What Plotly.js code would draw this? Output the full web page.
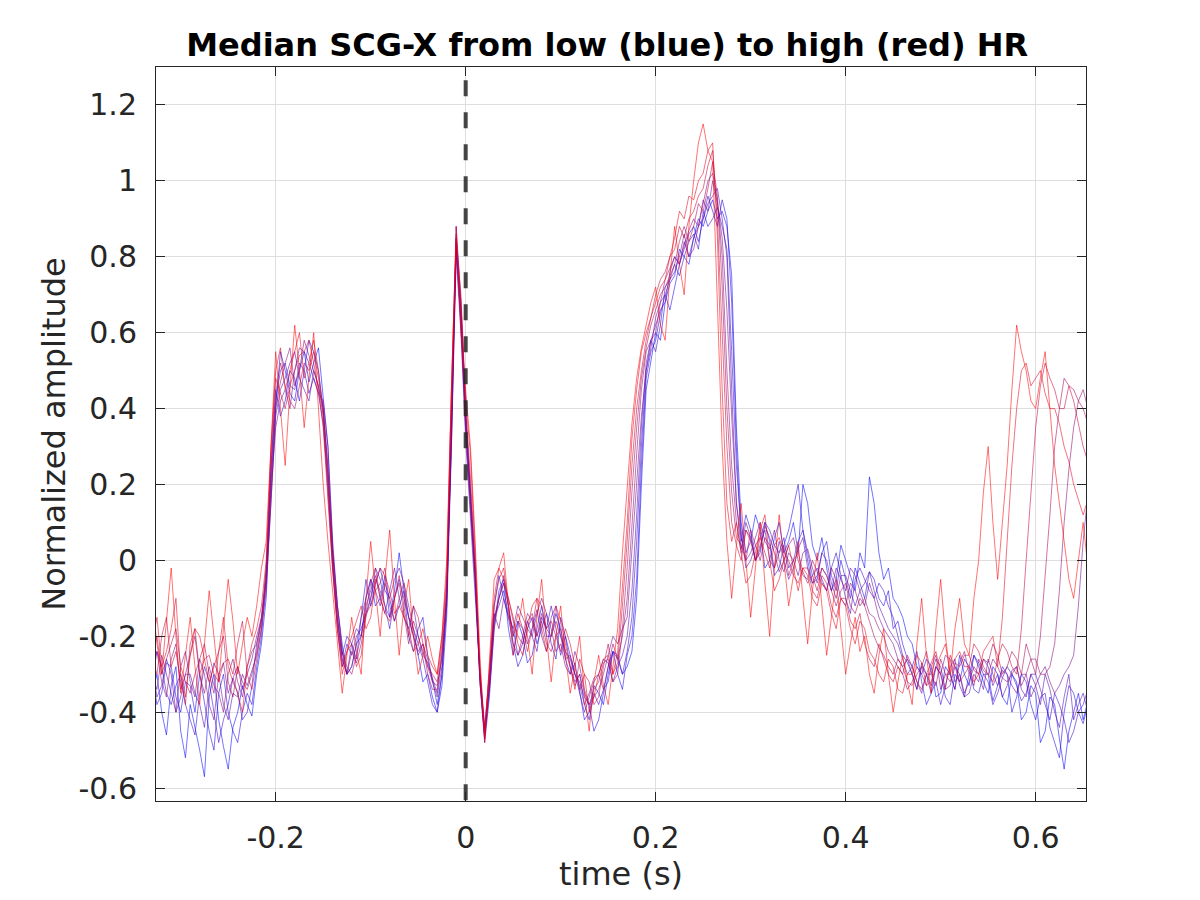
<!DOCTYPE html>
<html>
<head>
<meta charset="utf-8">
<script src="https://cdn.plot.ly/plotly-3.0.1.min.js"></script>
<style>html,body{margin:0;padding:0;background:#fff;}#chart{width:1200px;height:900px;}</style>
</head>
<body>
<div id="chart"></div>
<script>
const time = [-0.330,-0.325,-0.320,-0.315,-0.310,-0.305,-0.300,-0.295,-0.290,-0.285,
-0.280,-0.275,-0.270,-0.265,-0.260,-0.255,-0.250,-0.245,-0.240,-0.235,
-0.230,-0.225,-0.220,-0.215,-0.210,-0.205,-0.200,-0.195,-0.190,-0.185,
-0.180,-0.175,-0.170,-0.165,-0.160,-0.155,-0.150,-0.145,-0.140,-0.135,
-0.130,-0.125,-0.120,-0.115,-0.110,-0.105,-0.100,-0.095,-0.090,-0.085,
-0.080,-0.075,-0.070,-0.065,-0.060,-0.055,-0.050,-0.045,-0.040,-0.035,
-0.030,-0.025,-0.020,-0.015,-0.010,-0.005,0.000,0.005,0.010,0.015,
0.020,0.025,0.030,0.035,0.040,0.045,0.050,0.055,0.060,0.065,
0.070,0.075,0.080,0.085,0.090,0.095,0.100,0.105,0.110,0.115,
0.120,0.125,0.130,0.135,0.140,0.145,0.150,0.155,0.160,0.165,
0.170,0.175,0.180,0.185,0.190,0.195,0.200,0.205,0.210,0.215,
0.220,0.225,0.230,0.235,0.240,0.245,0.250,0.255,0.260,0.265,
0.270,0.275,0.280,0.285,0.290,0.295,0.300,0.305,0.310,0.315,
0.320,0.325,0.330,0.335,0.340,0.345,0.350,0.355,0.360,0.365,
0.370,0.375,0.380,0.385,0.390,0.395,0.400,0.405,0.410,0.415,
0.420,0.425,0.430,0.435,0.440,0.445,0.450,0.455,0.460,0.465,
0.470,0.475,0.480,0.485,0.490,0.495,0.500,0.505,0.510,0.515,
0.520,0.525,0.530,0.535,0.540,0.545,0.550,0.555,0.560,0.565,
0.570,0.575,0.580,0.585,0.590,0.595,0.600,0.605,0.610,0.615,
0.620,0.625,0.630,0.635,0.640,0.645,0.650,0.655,0.660];

// median beats ordered from low HR (blue) to high HR (red)
const hr0 = [-0.35,-0.30,-0.40,-0.46,-0.33,-0.28,-0.45,-0.52,-0.38,-0.44,-0.50,-0.57,-0.36,-0.30,-0.42,-0.49,-0.55,-0.44,-0.40,-0.33,
-0.38,-0.41,-0.30,-0.22,-0.10,0.20,0.40,0.55,0.50,0.44,0.42,0.50,0.55,0.47,0.52,0.56,0.42,0.30,0.05,-0.12,
-0.22,-0.30,-0.28,-0.22,-0.20,-0.10,-0.05,-0.12,-0.10,-0.04,-0.15,-0.08,0.02,-0.08,-0.15,-0.20,-0.25,-0.32,-0.30,-0.36,
-0.40,-0.33,-0.15,0.30,0.88,0.68,0.40,0.18,-0.02,-0.32,-0.48,-0.36,-0.18,-0.08,-0.05,-0.18,-0.25,-0.16,-0.20,-0.27,
-0.25,-0.18,-0.12,-0.20,-0.20,-0.14,-0.18,-0.26,-0.30,-0.27,-0.35,-0.42,-0.40,-0.33,-0.35,-0.38,-0.30,-0.24,-0.25,-0.30,
-0.28,-0.24,-0.10,0.20,0.45,0.52,0.60,0.58,0.68,0.73,0.75,0.82,0.80,0.78,0.85,0.90,0.88,0.92,0.95,0.90,
0.92,0.88,0.75,0.35,0.10,0.02,0.05,0.12,0.08,-0.02,0.00,0.06,0.10,0.02,0.05,0.10,0.02,0.20,0.15,0.04,
0.00,0.06,-0.02,-0.08,-0.05,0.04,0.00,-0.04,-0.08,0.02,-0.02,0.22,0.15,0.02,-0.05,-0.02,-0.10,-0.12,-0.15,-0.20,
-0.22,-0.28,-0.30,-0.26,-0.28,-0.36,-0.35,-0.28,-0.30,-0.34,-0.25,-0.30,-0.33,-0.25,-0.28,-0.32,-0.35,-0.28,-0.30,-0.36,
-0.38,-0.30,-0.32,-0.42,-0.40,-0.33,-0.35,-0.48,-0.45,-0.36,-0.38,-0.47,-0.55,-0.45,-0.40,-0.35,-0.42,-0.37,-0.38];

const hr1 = [-0.30,-0.38,-0.35,-0.27,-0.28,-0.36,-0.40,-0.32,-0.33,-0.40,-0.30,-0.38,-0.45,-0.50,-0.35,-0.30,-0.40,-0.45,-0.48,-0.40,
-0.35,-0.38,-0.28,-0.20,-0.05,0.25,0.45,0.38,0.42,0.50,0.48,0.42,0.50,0.58,0.55,0.50,0.40,0.25,0.02,-0.15,
-0.25,-0.20,-0.22,-0.26,-0.15,-0.05,-0.12,-0.06,-0.02,-0.08,-0.10,-0.16,-0.12,-0.08,-0.20,-0.24,-0.18,-0.15,-0.25,-0.32,
-0.38,-0.30,-0.12,0.35,0.85,0.62,0.38,0.15,-0.05,-0.30,-0.46,-0.32,-0.12,-0.04,-0.10,-0.15,-0.22,-0.28,-0.25,-0.18,
-0.15,-0.22,-0.18,-0.14,-0.22,-0.26,-0.15,-0.20,-0.25,-0.30,-0.32,-0.36,-0.38,-0.45,-0.42,-0.35,-0.28,-0.24,-0.30,-0.34,
-0.25,-0.20,-0.05,0.25,0.48,0.55,0.58,0.65,0.70,0.66,0.72,0.78,0.82,0.86,0.88,0.84,0.90,0.96,0.92,0.88,
0.95,0.90,0.68,0.30,0.05,0.12,0.08,0.00,0.02,0.10,0.05,-0.04,-0.02,0.04,0.08,0.14,0.20,0.08,0.00,-0.06,
-0.05,0.02,0.05,-0.04,-0.08,0.00,-0.05,-0.10,-0.02,-0.06,-0.10,-0.03,-0.05,-0.10,-0.12,-0.08,-0.18,-0.16,-0.22,-0.26,
-0.28,-0.24,-0.32,-0.38,-0.35,-0.28,-0.30,-0.36,-0.38,-0.30,-0.32,-0.26,-0.28,-0.34,-0.35,-0.30,-0.30,-0.37,-0.33,-0.28,
-0.30,-0.40,-0.36,-0.30,-0.32,-0.38,-0.42,-0.36,-0.35,-0.44,-0.48,-0.52,-0.40,-0.33,-0.35,-0.40,-0.43,-0.38,-0.40];

const hr2 = [-0.32,-0.24,-0.28,-0.35,-0.38,-0.33,-0.30,-0.38,-0.42,-0.46,-0.35,-0.28,-0.32,-0.40,-0.48,-0.42,-0.38,-0.31,-0.35,-0.42,
-0.40,-0.33,-0.22,-0.15,-0.02,0.22,0.42,0.50,0.52,0.46,0.45,0.52,0.50,0.44,0.48,0.44,0.36,0.20,-0.02,-0.18,
-0.28,-0.22,-0.25,-0.20,-0.18,-0.14,-0.10,-0.02,-0.05,-0.12,-0.18,-0.10,-0.05,-0.10,-0.15,-0.18,-0.22,-0.26,-0.32,-0.38,
-0.40,-0.30,-0.08,0.30,0.80,0.60,0.32,0.12,-0.08,-0.30,-0.44,-0.30,-0.15,-0.12,-0.08,-0.14,-0.18,-0.25,-0.22,-0.16,
-0.20,-0.24,-0.15,-0.18,-0.12,-0.18,-0.25,-0.20,-0.28,-0.32,-0.30,-0.38,-0.42,-0.35,-0.38,-0.34,-0.32,-0.24,-0.26,-0.30,
-0.24,-0.15,0.05,0.30,0.50,0.58,0.55,0.62,0.72,0.74,0.78,0.75,0.80,0.84,0.86,0.82,0.92,0.88,0.90,0.93,
0.88,0.82,0.55,0.25,0.08,-0.02,0.00,0.04,0.06,0.10,0.08,0.04,0.02,0.06,-0.02,0.00,0.05,0.08,0.02,-0.04,
-0.02,-0.05,-0.08,-0.02,0.02,-0.04,-0.10,-0.14,-0.05,-0.02,-0.05,-0.08,-0.10,-0.06,-0.08,-0.12,-0.15,-0.20,-0.25,-0.27,
-0.30,-0.34,-0.28,-0.30,-0.35,-0.32,-0.38,-0.33,-0.28,-0.26,-0.33,-0.36,-0.30,-0.25,-0.27,-0.30,-0.32,-0.38,-0.35,-0.31,
-0.28,-0.30,-0.33,-0.37,-0.35,-0.30,-0.30,-0.34,-0.38,-0.42,-0.35,-0.38,-0.42,-0.48,-0.45,-0.40,-0.38,-0.34,-0.40];

const hr3 = [-0.28,-0.36,-0.33,-0.26,-0.30,-0.40,-0.36,-0.30,-0.30,-0.35,-0.38,-0.44,-0.33,-0.27,-0.30,-0.38,-0.42,-0.35,-0.36,-0.30,
-0.33,-0.29,-0.25,-0.18,-0.08,0.15,0.38,0.45,0.48,0.52,0.55,0.48,0.45,0.42,0.50,0.46,0.40,0.22,0.00,-0.15,
-0.26,-0.30,-0.22,-0.18,-0.20,-0.12,-0.08,-0.04,-0.10,-0.14,-0.08,-0.02,-0.10,-0.15,-0.18,-0.12,-0.20,-0.25,-0.27,-0.31,
-0.35,-0.25,-0.10,0.38,0.84,0.66,0.36,0.18,-0.04,-0.32,-0.47,-0.34,-0.16,-0.10,-0.06,-0.12,-0.20,-0.16,-0.18,-0.22,
-0.18,-0.13,-0.20,-0.24,-0.15,-0.12,-0.20,-0.24,-0.26,-0.30,-0.35,-0.40,-0.36,-0.32,-0.30,-0.26,-0.27,-0.32,-0.28,-0.25,
-0.20,-0.08,0.12,0.35,0.52,0.58,0.62,0.66,0.68,0.76,0.80,0.78,0.84,0.80,0.85,0.88,0.90,0.94,0.96,0.98,
0.90,0.80,0.45,0.15,0.03,0.10,0.06,0.00,0.04,0.08,0.00,-0.02,0.05,0.00,-0.05,-0.02,0.03,0.06,-0.02,-0.06,
-0.04,0.02,0.00,-0.06,-0.10,-0.04,-0.04,-0.08,-0.12,-0.08,-0.06,-0.03,-0.08,-0.12,-0.15,-0.18,-0.20,-0.22,-0.26,-0.30,
-0.28,-0.32,-0.35,-0.30,-0.30,-0.26,-0.28,-0.34,-0.33,-0.28,-0.30,-0.36,-0.35,-0.30,-0.32,-0.26,-0.28,-0.33,-0.30,-0.36,
-0.33,-0.29,-0.28,-0.34,-0.36,-0.30,-0.33,-0.38,-0.30,-0.34,-0.40,-0.44,-0.36,-0.30,-0.42,-0.38,-0.35,-0.40,-0.45];

const hr4 = [-0.30,-0.34,-0.25,-0.30,-0.35,-0.40,-0.28,-0.24,-0.32,-0.36,-0.26,-0.30,-0.38,-0.42,-0.30,-0.27,-0.35,-0.31,-0.28,-0.34,
-0.30,-0.26,-0.20,-0.15,-0.05,0.18,0.35,0.42,0.45,0.40,0.50,0.56,0.55,0.52,0.48,0.44,0.42,0.30,0.03,-0.12,
-0.24,-0.30,-0.28,-0.22,-0.15,-0.10,-0.05,-0.08,-0.12,-0.06,-0.10,-0.05,-0.02,-0.06,-0.12,-0.18,-0.25,-0.22,-0.26,-0.32,
-0.36,-0.28,-0.12,0.36,0.83,0.62,0.34,0.14,-0.06,-0.30,-0.45,-0.33,-0.14,-0.18,-0.10,-0.15,-0.18,-0.12,-0.15,-0.18,
-0.20,-0.14,-0.10,-0.14,-0.18,-0.24,-0.22,-0.28,-0.30,-0.24,-0.28,-0.34,-0.38,-0.36,-0.34,-0.30,-0.25,-0.20,-0.22,-0.18,
-0.15,0.02,0.20,0.38,0.50,0.56,0.64,0.68,0.70,0.74,0.76,0.80,0.86,0.80,0.82,0.88,0.95,0.92,1.00,0.94,
0.85,0.66,0.38,0.15,0.06,0.00,0.02,0.06,0.10,0.05,0.03,0.08,0.00,-0.03,0.02,0.00,-0.04,0.02,0.03,-0.02,
-0.06,-0.02,-0.04,-0.08,-0.02,-0.05,-0.08,-0.02,-0.04,-0.08,-0.12,-0.06,-0.10,-0.15,-0.18,-0.20,-0.22,-0.26,-0.28,-0.26,
-0.30,-0.34,-0.27,-0.30,-0.33,-0.28,-0.30,-0.25,-0.26,-0.32,-0.30,-0.35,-0.32,-0.28,-0.30,-0.34,-0.26,-0.30,-0.33,-0.29,
-0.30,-0.33,-0.35,-0.30,-0.30,-0.36,-0.33,-0.30,-0.28,-0.32,-0.35,-0.33,-0.30,-0.28,-0.25,-0.12,0.05,0.18,0.30];

const hr5 = [-0.28,-0.24,-0.32,-0.36,-0.26,-0.22,-0.34,-0.30,-0.25,-0.20,-0.30,-0.35,-0.28,-0.33,-0.35,-0.40,-0.30,-0.26,-0.32,-0.36,
-0.28,-0.24,-0.22,-0.16,-0.06,0.15,0.40,0.47,0.52,0.56,0.46,0.50,0.58,0.54,0.50,0.46,0.38,0.18,-0.02,-0.16,
-0.26,-0.30,-0.24,-0.27,-0.22,-0.15,-0.10,-0.05,-0.08,-0.12,-0.15,-0.10,-0.06,-0.14,-0.22,-0.16,-0.20,-0.24,-0.28,-0.32,
-0.33,-0.26,-0.10,0.32,0.82,0.64,0.36,0.16,-0.05,-0.32,-0.46,-0.34,-0.18,-0.10,-0.04,-0.12,-0.22,-0.25,-0.20,-0.14,
-0.16,-0.20,-0.14,-0.18,-0.20,-0.16,-0.20,-0.26,-0.25,-0.30,-0.33,-0.38,-0.35,-0.31,-0.30,-0.34,-0.28,-0.22,-0.26,-0.20,
-0.10,0.10,0.28,0.45,0.55,0.58,0.60,0.68,0.74,0.77,0.80,0.78,0.83,0.87,0.90,0.88,0.94,1.00,1.02,0.95,
0.80,0.50,0.25,0.10,0.02,0.08,0.06,0.00,0.03,0.09,0.06,0.02,-0.03,0.00,0.04,0.06,0.00,-0.04,-0.05,0.00,
-0.03,-0.06,-0.08,-0.02,-0.05,-0.10,-0.12,-0.06,-0.08,-0.12,-0.10,-0.14,-0.15,-0.18,-0.20,-0.24,-0.26,-0.28,-0.30,-0.34,
-0.32,-0.28,-0.30,-0.33,-0.28,-0.25,-0.34,-0.30,-0.30,-0.34,-0.27,-0.24,-0.30,-0.33,-0.26,-0.29,-0.30,-0.26,-0.28,-0.31,
-0.32,-0.30,-0.28,-0.33,-0.30,-0.26,-0.26,-0.30,-0.30,-0.28,-0.22,-0.08,0.10,0.24,0.35,0.42,0.45,0.40,0.47];

const hr6 = [-0.25,-0.20,-0.30,-0.26,-0.22,-0.18,-0.28,-0.32,-0.35,-0.30,-0.26,-0.22,-0.30,-0.35,-0.24,-0.20,-0.32,-0.36,-0.28,-0.32,
-0.34,-0.30,-0.24,-0.16,-0.04,0.24,0.44,0.52,0.46,0.42,0.40,0.46,0.52,0.50,0.55,0.48,0.40,0.24,0.02,-0.12,
-0.24,-0.28,-0.30,-0.25,-0.20,-0.14,-0.12,-0.08,-0.06,-0.02,-0.12,-0.16,-0.10,-0.06,-0.15,-0.20,-0.24,-0.22,-0.30,-0.34,
-0.34,-0.24,-0.08,0.40,0.84,0.66,0.38,0.18,-0.03,-0.30,-0.47,-0.32,-0.15,-0.10,-0.06,-0.10,-0.16,-0.20,-0.22,-0.16,
-0.14,-0.20,-0.16,-0.22,-0.24,-0.20,-0.18,-0.24,-0.28,-0.33,-0.30,-0.35,-0.38,-0.34,-0.32,-0.27,-0.26,-0.32,-0.30,-0.18,
-0.02,0.18,0.35,0.48,0.56,0.62,0.66,0.70,0.72,0.75,0.78,0.84,0.88,0.84,0.88,0.94,0.92,0.98,1.05,0.96,
0.72,0.40,0.18,0.06,0.04,0.00,0.08,0.04,0.00,0.06,0.04,-0.02,0.02,0.04,-0.04,0.00,0.02,-0.03,-0.06,-0.04,
-0.08,-0.02,-0.04,-0.08,-0.12,-0.08,-0.06,-0.12,-0.14,-0.10,-0.12,-0.16,-0.20,-0.23,-0.25,-0.28,-0.30,-0.26,-0.28,-0.32,
-0.33,-0.30,-0.28,-0.24,-0.30,-0.33,-0.26,-0.30,-0.32,-0.27,-0.28,-0.25,-0.25,-0.29,-0.30,-0.26,-0.27,-0.22,-0.25,-0.30,
-0.28,-0.24,-0.26,-0.30,-0.22,-0.26,-0.30,-0.20,-0.05,0.12,0.30,0.40,0.48,0.46,0.45,0.42,0.40,0.36,0.44];

const hr7 = [-0.26,-0.30,-0.20,-0.15,-0.28,-0.24,-0.32,-0.38,-0.22,-0.18,-0.30,-0.26,-0.25,-0.30,-0.32,-0.27,-0.26,-0.30,-0.22,-0.16,
-0.30,-0.34,-0.26,-0.18,-0.02,0.28,0.48,0.44,0.40,0.46,0.50,0.54,0.55,0.58,0.52,0.45,0.35,0.15,-0.03,-0.18,
-0.28,-0.24,-0.22,-0.28,-0.25,-0.14,-0.06,-0.02,-0.10,-0.14,-0.16,-0.10,-0.04,-0.12,-0.20,-0.12,-0.15,-0.22,-0.28,-0.30,
-0.32,-0.22,-0.06,0.45,0.86,0.68,0.40,0.22,0.00,-0.28,-0.44,-0.30,-0.12,-0.05,-0.02,-0.12,-0.20,-0.14,-0.18,-0.24,
-0.18,-0.10,-0.12,-0.18,-0.16,-0.20,-0.24,-0.18,-0.22,-0.28,-0.34,-0.30,-0.32,-0.38,-0.36,-0.28,-0.22,-0.30,-0.27,-0.12,
0.05,0.25,0.40,0.50,0.58,0.64,0.70,0.74,0.76,0.80,0.82,0.88,0.85,0.90,0.92,0.96,0.98,1.04,1.08,0.90,
0.60,0.30,0.10,0.04,0.00,0.08,0.05,0.00,0.06,0.02,-0.02,0.04,0.06,0.02,0.00,-0.04,-0.06,-0.02,-0.02,-0.08,
-0.10,-0.04,-0.06,-0.12,-0.15,-0.10,-0.10,-0.16,-0.18,-0.14,-0.22,-0.26,-0.28,-0.22,-0.26,-0.30,-0.32,-0.28,-0.30,-0.25,
-0.28,-0.32,-0.34,-0.30,-0.27,-0.24,-0.30,-0.34,-0.25,-0.28,-0.32,-0.30,-0.28,-0.22,-0.24,-0.28,-0.30,-0.32,-0.26,-0.22,
-0.24,-0.28,-0.30,-0.18,0.00,0.18,0.35,0.46,0.52,0.48,0.45,0.40,0.40,0.46,0.42,0.36,0.30,0.26,0.22];

const hr8 = [-0.22,-0.15,-0.28,-0.24,-0.18,-0.10,-0.30,-0.36,-0.25,-0.18,-0.20,-0.26,-0.32,-0.28,-0.24,-0.15,-0.28,-0.32,-0.35,-0.40,
-0.28,-0.22,-0.18,-0.12,0.00,0.30,0.50,0.56,0.45,0.50,0.55,0.60,0.48,0.52,0.58,0.50,0.38,0.22,0.00,-0.18,
-0.30,-0.24,-0.20,-0.16,-0.12,-0.18,-0.15,-0.06,-0.02,-0.04,-0.08,-0.14,-0.12,-0.15,-0.18,-0.24,-0.22,-0.18,-0.25,-0.28,
-0.30,-0.20,-0.04,0.45,0.85,0.70,0.42,0.28,0.02,-0.30,-0.46,-0.28,-0.10,-0.02,-0.05,-0.10,-0.15,-0.22,-0.25,-0.18,
-0.12,-0.10,-0.18,-0.24,-0.20,-0.12,-0.16,-0.22,-0.28,-0.34,-0.26,-0.30,-0.40,-0.36,-0.30,-0.26,-0.25,-0.30,-0.24,-0.06,
0.10,0.32,0.45,0.55,0.60,0.64,0.68,0.72,0.74,0.80,0.85,0.92,0.90,0.96,0.95,1.00,1.02,1.08,1.10,0.85,
0.45,0.15,0.05,0.10,0.02,-0.06,-0.04,0.02,0.08,0.12,0.00,-0.08,-0.05,0.00,0.04,-0.02,-0.08,-0.02,-0.04,-0.10,
-0.12,-0.06,-0.08,-0.14,-0.18,-0.10,-0.12,-0.18,-0.22,-0.16,-0.18,-0.24,-0.26,-0.30,-0.32,-0.26,-0.28,-0.34,-0.35,-0.30,
-0.30,-0.25,-0.27,-0.33,-0.32,-0.28,-0.25,-0.22,-0.30,-0.26,-0.24,-0.28,-0.28,-0.32,-0.30,-0.24,-0.22,-0.20,-0.28,-0.15,
0.05,0.25,0.40,0.50,0.52,0.46,0.48,0.50,0.44,0.40,0.40,0.36,0.30,0.26,0.20,0.16,0.12,0.16,0.10];

const hr9 = [-0.10,-0.22,-0.30,-0.15,-0.02,-0.20,-0.35,-0.25,-0.15,-0.28,-0.38,-0.22,-0.08,-0.20,-0.32,-0.18,-0.05,-0.16,-0.30,-0.22,
-0.15,-0.20,-0.12,-0.02,0.05,0.30,0.55,0.40,0.25,0.45,0.62,0.50,0.35,0.48,0.60,0.40,0.20,0.05,-0.08,-0.22,
-0.35,-0.25,-0.15,-0.24,-0.30,-0.10,0.05,-0.08,-0.20,-0.05,0.08,-0.10,-0.25,-0.12,-0.05,-0.20,-0.30,-0.25,-0.20,-0.26,
-0.30,-0.20,0.00,0.45,0.88,0.60,0.45,0.30,0.05,-0.25,-0.48,-0.28,-0.05,-0.02,0.02,-0.12,-0.25,-0.18,-0.10,-0.20,
-0.30,-0.15,-0.05,-0.20,-0.32,-0.20,-0.12,-0.25,-0.35,-0.28,-0.20,-0.35,-0.45,-0.32,-0.25,-0.33,-0.38,-0.28,-0.18,0.02,
0.20,0.36,0.48,0.56,0.62,0.68,0.72,0.62,0.58,0.75,0.88,0.78,0.70,0.88,1.00,1.10,1.15,1.08,1.05,0.70,
0.30,0.05,-0.10,0.04,0.15,0.00,-0.15,-0.02,0.10,-0.06,-0.20,-0.02,0.12,0.00,-0.12,-0.04,0.05,-0.10,-0.22,-0.08,
0.02,-0.12,-0.25,-0.15,-0.05,-0.18,-0.30,-0.22,-0.15,-0.24,-0.20,-0.30,-0.35,-0.25,-0.18,-0.30,-0.40,-0.32,-0.25,-0.32,
-0.38,-0.22,-0.10,-0.25,-0.35,-0.18,-0.05,-0.20,-0.30,-0.18,-0.10,-0.22,-0.25,-0.10,0.00,0.18,0.30,0.10,-0.05,0.10,
0.25,0.45,0.62,0.55,0.50,0.42,0.40,0.48,0.55,0.40,0.25,0.15,0.05,-0.05,-0.10,0.00,0.10,-0.02,-0.15];

const beats = [hr0, hr1, hr2, hr3, hr4, hr5, hr6, hr7, hr8, hr9];

const xTickVals = [-0.2, 0, 0.2, 0.4, 0.6];
const xTickText = ['-0.2', '0', '0.2', '0.4', '0.6'];
const yTickVals = [1.2, 1, 0.8, 0.6, 0.4, 0.2, 0, -0.2, -0.4, -0.6];
const yTickText = ['1.2', '1', '0.8', '0.6', '0.4', '0.2', '0', '-0.2', '-0.4', '-0.6'];
const markerTime = 0;

const traces = beats.map(function (y, k) {
  const f = k / (beats.length - 1);
  const r = Math.round(255 * f), b = Math.round(255 * (1 - f));
  return {
    x: time, y: y, type: 'scatter', mode: 'lines',
    line: {color: 'rgba(' + r + ',0,' + b + ',0.55)', width: 1},
    hoverinfo: 'skip', showlegend: false
  };
});

const axisCommon = {
  showgrid: true, gridcolor: '#dedede', gridwidth: 1,
  zeroline: false, showline: true, linecolor: '#262626', linewidth: 1,
  mirror: 'ticks', ticks: 'inside', ticklen: 9, tickcolor: '#262626', tickwidth: 1,
  tickfont: {family: 'DejaVu Sans', size: 30, color: '#262626'},
  tickmode: 'array'
};

const layout = {
  width: 1200, height: 900,
  margin: {l: 156, r: 114, t: 67, b: 99, pad: 0},
  paper_bgcolor: '#ffffff', plot_bgcolor: '#ffffff',
  font: {family: 'DejaVu Sans', color: '#262626'},
  title: {
    text: 'Median SCG-X from low (blue) to high (red) HR',
    font: {family: 'DejaVu Sans', size: 32, weight: 'bold', color: '#000000'},
    xref: 'container', x: 0.506, xanchor: 'center',
    yref: 'container', y: 0.95, yanchor: 'middle'
  },
  xaxis: Object.assign({}, axisCommon, {
    range: [-0.326, 0.653],
    tickvals: xTickVals, ticktext: xTickText,
    ticklabelstandoff: 10,
    title: {text: 'time (s)', font: {family: 'DejaVu Sans', size: 32, color: '#262626'}, standoff: 8}
  }),
  yaxis: Object.assign({}, axisCommon, {
    range: [-0.634, 1.3],
    tickvals: yTickVals, ticktext: yTickText,
    ticklabelstandoff: 12,
    title: {text: 'Normalized amplitude', font: {family: 'DejaVu Sans', size: 32, color: '#262626'}, standoff: 3}
  }),
  shapes: [{
    type: 'line', xref: 'x', yref: 'paper',
    x0: markerTime, x1: markerTime, y0: 0.982, y1: 0,
    line: {color: 'rgba(38,38,38,0.85)', width: 4, dash: '16px,16px'}
  }]
};

Plotly.newPlot('chart', traces, layout, {staticPlot: true, displayModeBar: false});
</script>
</body>
</html>
